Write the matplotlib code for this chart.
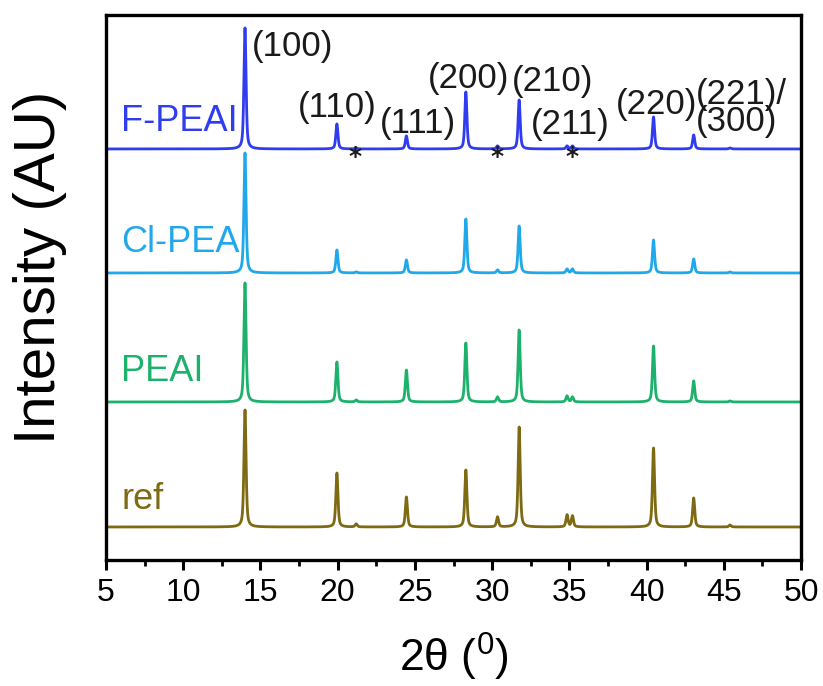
import numpy as np
import matplotlib
matplotlib.use('Agg')
import matplotlib.pyplot as plt
from matplotlib.ticker import MultipleLocator

# peak positions (2theta, deg) and heights (a.u.)
peak_pos = [14.0, 19.95, 21.2, 24.45, 28.3, 30.35, 31.75, 34.85, 35.2, 40.45, 43.05, 45.4]
h_fpeai  = [121, 25, 1, 13, 57, 3, 49, 3, 3, 32, 14, 1]
h_clpea  = [120, 23, 1, 13, 54, 3, 47, 4, 4, 33, 14, 1]
h_peai   = [119, 40, 2, 32, 59, 5, 72, 6, 5, 56, 21, 1]
h_ref    = [117, 54, 3, 30, 57, 10, 100, 12, 11, 79, 29, 2]

names  = ['F-PEAI', 'Cl-PEA', 'PEAI', 'ref']
colors = ['#2f3cf0', '#1fa8ea', '#1db26c', '#7d6a12']
offset = [411, 287, 158, 33]
label_y = [438, 317, 188, 60]

hkl = ['(100)', '(110)', '(111)', '(200)', '(210)', '(211)', '(220)', '(221)/\n(300)']
hkl_x = [14.45, 17.4, 22.75, 25.85, 31.3, 32.5, 38.0, 43.2]
hkl_y = [513, 452, 436, 481, 478, 435, 455, 452]
star_x = [21.1, 30.35, 35.2]


def pattern(x, heights, fwhm=0.16, eta=0.55):
    y = np.zeros_like(x)
    for p, h in zip(peak_pos, heights):
        d = (x - p) / (fwhm / 2)
        y += h * (eta / (1 + d**2) + (1 - eta) * np.exp(-np.log(2) * d**2))
    return y


tt = np.linspace(5, 50, 6001)

fig = plt.figure(figsize=(8.23, 6.86), dpi=100)
ax = fig.add_axes([0.1288, 0.1837, 0.8445, 0.7945])

for name, h, c, off, ly in zip(names, [h_fpeai, h_clpea, h_peai, h_ref], colors, offset, label_y):
    ax.plot(tt, pattern(tt, h) + off, color=c, lw=2.0)
    ax.text(6.0, ly, name, color=c, fontsize=26, family='Liberation Sans', ha='left', va='center')

for t, x, y in zip(hkl, hkl_x, hkl_y):
    ax.text(x, y, t, fontsize=25, family='Liberation Sans', ha='left', va='center',
            color='#1a1a1a', linespacing=0.8)

for x in star_x:
    ax.text(x, 403, '*', fontsize=18, fontweight='bold', ha='center', va='center', color='#1a1a1a')

ax.set_xlim(5, 50)
ax.set_ylim(0, 545)
ax.xaxis.set_major_locator(MultipleLocator(5))
ax.xaxis.set_minor_locator(MultipleLocator(2.5))
ax.tick_params(axis='x', which='major', direction='out', length=7, width=2.2, pad=6,
               labelsize=23)
ax.tick_params(axis='x', which='minor', direction='out', length=4, width=2)
ax.set_yticks([])
for lab in ax.get_xticklabels():
    lab.set_family('Liberation Sans')
for sp in ax.spines.values():
    sp.set_linewidth(2.4)

ax.set_xlabel(r'2θ ($\mathregular{^0}$)', fontsize=32, family='Liberation Sans')
ax.xaxis.set_label_coords(0.5, -0.13)
ax.set_ylabel('Intensity (AU)', fontsize=42, family='Liberation Sans')
ax.yaxis.set_label_coords(-0.056, 0.536)

fig.savefig('out.png', dpi=100)
